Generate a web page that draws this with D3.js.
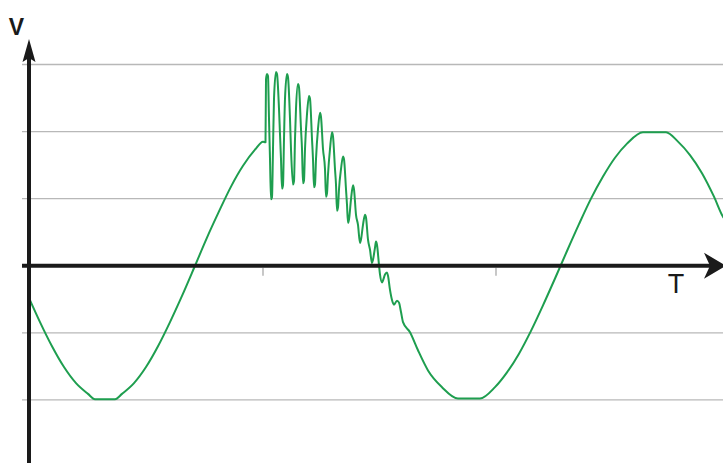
<!DOCTYPE html>
<html>
<head>
<meta charset="utf-8">
<script src="https://cdn.jsdelivr.net/npm/d3@7.9.0/dist/d3.min.js"></script>
<style>
  html, body { margin: 0; padding: 0; background: #fff; }
  svg { display: block; }
</style>
</head>
<body>
<svg width="723" height="463"></svg>
<script>
// sample index along T (one sample per pixel-ish step)
const samples = [
  0, 11, 23, 35, 47, 59, 66, 86, 93, 105, 117, 129, 141, 153, 166, 178, 190, 202, 214, 226, 234, 236.5,
  237, 238, 239, 240, 241, 242, 243, 244, 245, 247, 248, 250, 251, 252, 253, 254, 255, 256, 258, 259,
  261, 262, 264, 265, 266, 267, 269, 270, 272, 273, 274, 275, 276, 278, 280, 281, 283, 284, 285, 286,
  287, 289, 291, 292, 294, 296, 297, 298, 299, 301, 303, 304, 306, 307, 308, 309, 310, 312, 314, 315,
  317, 318, 319, 320, 322, 324, 325, 327, 329, 331, 332, 334, 336, 337, 339, 341, 343, 344, 346, 347,
  348, 350, 351, 353, 354, 356, 358, 359, 361, 363, 365, 368, 370, 372, 374, 381, 389, 399, 413, 429,
  451, 466, 478, 490, 502, 514, 526, 538, 550, 562, 574, 586, 598, 614, 637, 649, 661, 673, 685, 694, 700
];
// voltage reading for each sample
const volts = [
  -48, -84, -120, -151, -175, -191, -199, -199, -191, -175, -151, -120, -84, -45, 0, 42, 81, 118, 149, 173, 185, 184,
  278, 286, 283, 219, 159, 99, 102, 174, 249, 289, 286, 234, 196, 159, 115, 120, 189, 249, 286, 281,
  219, 174, 121, 126, 189, 234, 271, 266, 204, 174, 123, 127, 174, 226, 253, 249, 189, 159, 117, 121,
  159, 204, 228, 222, 174, 144, 103, 108, 136, 174, 199, 193, 144, 121, 82, 87, 114, 144, 163, 159,
  114, 91, 64, 69, 99, 120, 114, 76, 61, 34, 39, 61, 76, 72, 39, 24, 4, 9, 27, 36,
  31, 1, -13, -25, -22, -13, -10, -15, -36, -51, -58, -52, -55, -69, -84, -99, -126, -156, -181, -198,
  -198, -181, -159, -131, -97, -59, -19, 22, 62, 100, 133, 161, 182, 199, 199, 185, 165, 138, 103, 73, 62
];
const gridValues = [300, 200, 100, -100, -200];
const tickSamples = [234, 467];

const svg = d3.select('svg');
const W = 723, H = 463;

const x = d3.scaleLinear().domain([0, 700]).range([29, 729]);
const y = d3.scaleLinear().domain([-300, 300]).range([467, 64.5]);

// horizontal grid lines
svg.append('g')
  .selectAll('line')
  .data(gridValues)
  .join('line')
  .attr('x1', 22).attr('x2', W)
  .attr('y1', d => y(d)).attr('y2', d => y(d))
  .attr('stroke', '#b8b8b8')
  .attr('stroke-width', 1.3);

// small marks under the time axis
svg.append('g')
  .selectAll('line')
  .data(tickSamples)
  .join('line')
  .attr('x1', d => x(d)).attr('x2', d => x(d))
  .attr('y1', y(0) + 2).attr('y2', y(0) + 10)
  .attr('stroke', '#aaa')
  .attr('stroke-width', 1.3);

// waveform
const points = samples.map((s, i) => [s, volts[i]]);
const line = d3.line()
  .curve(d3.curveMonotoneX)
  .x(d => x(d[0]))
  .y(d => y(d[1]));

svg.append('path')
  .datum(points)
  .attr('d', line)
  .attr('fill', 'none')
  .attr('stroke', '#1e9e4f')
  .attr('stroke-width', 2)
  .attr('stroke-linejoin', 'round');

// axes
const x0 = x(0), y0 = y(0);
svg.append('line')
  .attr('x1', 22).attr('x2', 712)
  .attr('y1', y0).attr('y2', y0)
  .attr('stroke', '#1a1a1a').attr('stroke-width', 4);
svg.append('path')
  .attr('d', `M${W + 3},${y0} L${W - 19},${y0 - 13} L${W - 13},${y0} L${W - 19},${y0 + 13} Z`)
  .attr('fill', '#1a1a1a');

svg.append('line')
  .attr('x1', x0).attr('x2', x0)
  .attr('y1', H).attr('y2', 55)
  .attr('stroke', '#1a1a1a').attr('stroke-width', 4);
svg.append('path')
  .attr('d', `M${x0},39 L${x0 + 6.5},62 L${x0},58 L${x0 - 6.5},62 Z`)
  .attr('fill', '#1a1a1a');

// axis labels
svg.append('text')
  .attr('x', 16.5).attr('y', 35)
  .attr('text-anchor', 'middle')
  .attr('font-family', 'Liberation Sans, Arial, sans-serif')
  .attr('font-weight', 'bold')
  .attr('font-size', 23)
  .attr('fill', '#1a1a1a')
  .text('V');

svg.append('text')
  .attr('x', 676).attr('y', 293)
  .attr('text-anchor', 'middle')
  .attr('font-family', 'Liberation Sans, Arial, sans-serif')
  .attr('font-size', 27)
  .attr('fill', '#1a1a1a')
  .text('T');
</script>
</body>
</html>
